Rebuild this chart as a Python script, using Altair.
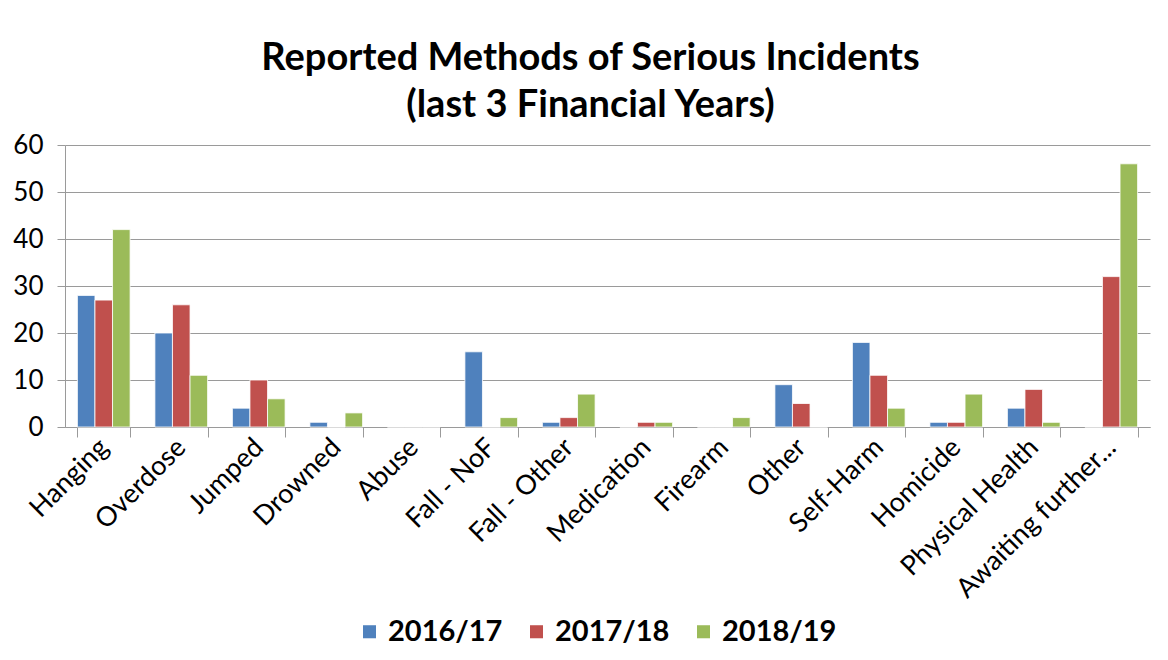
import altair as alt
import pandas as pd

categories = ["Hanging", "Overdose", "Jumped", "Drowned", "Abuse", "Fall - NoF",
              "Fall - Other", "Medication", "Firearm", "Other", "Self-Harm",
              "Homicide", "Physical Health", "Awaiting further..."]
years = ["2016/17", "2017/18", "2018/19"]
v_2016_17 = [28, 20, 4, 1, 0, 16, 1, 0, 0, 9, 18, 1, 4, 0]
v_2017_18 = [27, 26, 10, 0, 0, 0, 2, 1, 0, 5, 11, 1, 8, 32]
v_2018_19 = [42, 11, 6, 3, 0, 2, 7, 1, 2, 0, 4, 7, 1, 56]
colors = ["#4F81BD", "#C0504D", "#9BBB59"]
y_ticks = [0, 10, 20, 30, 40, 50, 60]

rows = []
for i, c in enumerate(categories):
    for yr, vals in zip(years, [v_2016_17, v_2017_18, v_2018_19]):
        rows.append({"Method": c, "Year": yr, "Count": vals[i]})
df = pd.DataFrame(rows)

FONT = "Lato"
LFONT = "Lato"

chart = alt.Chart(df).mark_bar(stroke="white", strokeWidth=0.8).encode(
    x=alt.X("Method:N", sort=categories,
            scale=alt.Scale(paddingInner=0.32, paddingOuter=0.16),
            axis=alt.Axis(title=None, labelAngle=-45, labelAlign="right",
                          labelBaseline="middle", labelFontSize=27,
                          labelFont=LFONT, labelColor="#000000",
                          tickBand="extent", tickSize=10, tickColor="#9a9a9a",
                          domainColor="#9a9a9a", labelPadding=6, labelLimit=400,
                          grid=False)),
    xOffset=alt.XOffset("Year:N", sort=years),
    y=alt.Y("Count:Q", scale=alt.Scale(domain=[0, 60], nice=False),
            axis=alt.Axis(title=None, values=y_ticks, labelFontSize=26,
                          labelFont=LFONT, labelColor="#000000",
                          tickSize=8, tickColor="#9a9a9a", domainColor="#9a9a9a",
                          gridColor="#9a9a9a", labelPadding=14)),
    color=alt.Color("Year:N", scale=alt.Scale(domain=years, range=colors),
                    legend=alt.Legend(title=None, orient="none", direction="horizontal",
                                      legendX=290, legendY=472,
                                      symbolType="square", symbolSize=170,
                                      symbolStrokeWidth=0,
                                      labelFontSize=29, labelFontWeight="bold",
                                      labelFont=FONT, labelColor="#000000",
                                      columnPadding=19, labelOffset=4)),
).properties(
    width=1085, height=282,
    title=alt.TitleParams(
        text=["Reported Methods of Serious Incidents", "(last 3 Financial Years)"],
        fontSize=38, font=FONT, fontWeight="bold", color="#000000",
        anchor="middle", lineHeight=47, offset=7, dx=-17),
    autosize=alt.AutoSizeParams(type="none"),
    padding={"left": 57, "top": 137, "right": 10, "bottom": 220},
).configure_view(stroke=None)

chart.save("out.html", embed_options={"renderer": "svg", "actions": False})
